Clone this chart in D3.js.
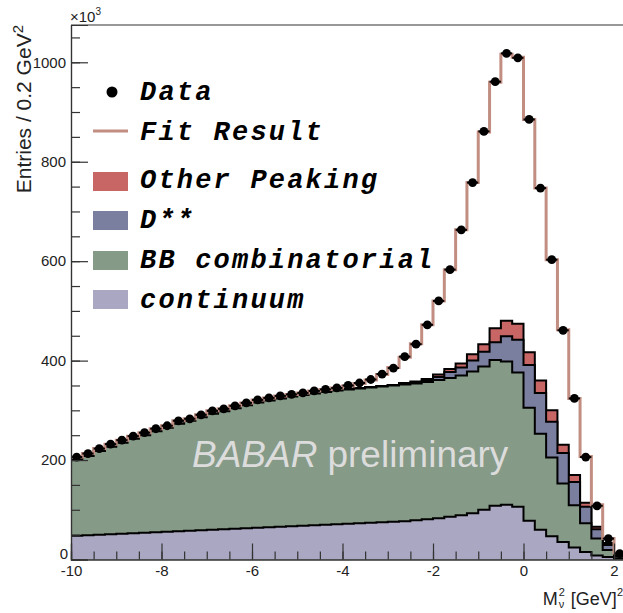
<!DOCTYPE html>
<html>
<head>
<meta charset="utf-8">
<script src="https://cdn.jsdelivr.net/npm/d3@7"></script>
<style>
  html, body { margin: 0; padding: 0; background: #fff; }
  svg { display: block; }
</style>
</head>
<body>
<svg id="chart" width="623" height="613"></svg>
<script>
// Histogram binning (GeV^2)
const binLow = -10;
const binWidth = 0.25;

// Observed entries per bin (x10^3)
const dataCounts = [206, 213, 223, 232, 240, 248, 255, 263, 269, 279,
                    283, 291, 299, 303, 309, 315, 321, 325, 329, 332,
                    335, 339, 342, 345, 350, 355, 362, 373, 385, 408,
                    433, 472, 520, 583, 663, 758, 861, 961, 1018, 1009,
                    885, 747, 603, 461, 324, 206, 108, 42, 12, 3];

// Total fit prediction per bin
const fitCounts = [206, 213, 223, 232, 240, 248, 255, 263, 269, 279,
                   283, 291, 299, 303, 309, 315, 321, 325, 329, 332,
                   335, 339, 342, 345, 349, 354, 361, 372, 386, 407,
                   434, 472, 520, 583, 663, 758, 860, 960, 1016, 1010,
                   885, 747, 603, 462, 324, 207, 110, 42, 13, 4];

// Background components (stacked bottom to top)
const continuum = [48, 49, 50, 51, 52, 53, 54, 55, 56, 57,
                   58, 59, 60, 61, 62, 63, 64, 65, 66, 67,
                   68, 69, 70, 71, 72, 73, 74, 75, 76, 77,
                   79, 81, 83, 86, 89, 93, 100, 108, 110, 106,
                   78, 60, 47, 35, 24, 15, 8, 5, 2, 1];
const bbCombinatorial = [152, 159, 168, 176, 183, 190, 196, 203, 209, 216,
                         221, 227, 233, 237, 242, 247, 252, 255, 258, 261,
                         263, 265, 267, 269, 270, 271, 272, 273, 274, 275,
                         275, 276, 278, 279, 281, 285, 288, 293, 288, 270,
                         227, 193, 158, 118, 85, 58, 34, 14, 4, 1];
const dStarStar = [0, 0, 0, 0, 0, 0, 0, 0, 0, 0,
                   0, 0, 0, 0, 0, 0, 0, 0, 0, 0,
                   0, 0, 0, 1, 1, 1, 1, 1, 1, 2,
                   2, 3, 6, 12, 16, 22, 30, 36, 51, 66,
                   86, 82, 72, 61, 47, 33, 19, 10, 3, 1];
const otherPeaking = [0, 0, 0, 0, 0, 0, 0, 0, 0, 0,
                      0, 0, 0, 0, 0, 0, 0, 0, 0, 0,
                      0, 0, 0, 0, 0, 0, 0, 0, 0, 1,
                      2, 3, 5, 6, 8, 13, 15, 28, 31, 32,
                      26, 25, 23, 17, 14, 8, 5, 4, 1, 0];

// Axis ticks
const xTickValues = [-10, -8, -6, -4, -2, 0, 2];
const yTickValues = [0, 200, 400, 600, 800, 1000];

// Legend
const legendLabels = ["Data", "Fit Result", "Other Peaking", "D**", "BB combinatorial", "continuum"];

const colors = {
  continuum: "#a9a7c1",
  bb: "#859a87",
  dss: "#7b7f9f",
  other: "#c86666",
  fit: "#c28e82"
};

const sans = "Liberation Sans, Arial, sans-serif";
const svg = d3.select("#chart");

const x = d3.scaleLinear().domain([-10, 2.5]).range([71, 71 + 12.5 * 45.25]);
const y = d3.scaleLinear().domain([0, 1075]).range([559.5, 25]);

const nBins = dataCounts.length;
const edges = d3.range(nBins + 1).map(i => binLow + i * binWidth);

// Step outline of a histogram: one point per bin left edge plus the final edge
function stepPoints(values) {
  const pts = values.map((v, i) => [edges[i], v]);
  pts.push([edges[nBins], values[nBins - 1]]);
  return pts;
}

const area = d3.area()
  .x(d => x(d[0]))
  .y0(y(0))
  .y1(d => y(d[1]))
  .curve(d3.curveStepAfter);

const line = d3.line()
  .x(d => x(d[0]))
  .y(d => y(d[1]))
  .curve(d3.curveStepAfter);

const plot = svg.append("g");

// Cumulative stack, drawn from the top layer down
const layers = [continuum, bbCombinatorial, dStarStar, otherPeaking];
const layerColors = [colors.continuum, colors.bb, colors.dss, colors.other];
const cumulative = [];
layers.forEach((arr, li) => {
  cumulative.push(arr.map((v, i) => v + (li > 0 ? cumulative[li - 1][i] : 0)));
});

for (let li = layers.length - 1; li >= 0; li--) {
  const pts = stepPoints(cumulative[li]);
  plot.append("path")
    .attr("d", area(pts))
    .attr("fill", layerColors[li])
    .attr("stroke", "none");
  plot.append("path")
    .attr("d", line(pts))
    .attr("fill", "none")
    .attr("stroke", "#000")
    .attr("stroke-width", 2);
}

// Fit result
plot.append("path")
  .attr("d", line(stepPoints(fitCounts)))
  .attr("fill", "none")
  .attr("stroke", colors.fit)
  .attr("stroke-width", 3);

// Data points with horizontal bin-width bars
const pts = plot.append("g");
dataCounts.forEach((v, i) => {
  const cx = x(edges[i] + binWidth / 2);
  pts.append("line")
    .attr("x1", x(edges[i])).attr("x2", x(edges[i + 1]))
    .attr("y1", y(v)).attr("y2", y(v))
    .attr("stroke", "#000").attr("stroke-width", 2);
  pts.append("circle")
    .attr("cx", cx).attr("cy", y(v)).attr("r", 4.4)
    .attr("fill", "#000");
});

// BABAR preliminary watermark
const wm = svg.append("text")
  .attr("x", 192).attr("y", 467)
  .attr("font-family", sans)
  .attr("font-size", 37)
  .attr("fill", "#dcdcdc");
wm.append("tspan").attr("font-style", "italic").text("BABAR");
wm.append("tspan").attr("dx", 10).text("preliminary");

// Frame and axes
const axisColor = "#333";
svg.append("line").attr("x1", 71).attr("x2", 623).attr("y1", 25).attr("y2", 25)
  .attr("stroke", axisColor).attr("stroke-width", 1.2);

const yMinor = svg.append("g").attr("transform", "translate(71,0)")
  .call(d3.axisLeft(y).tickValues(d3.range(0, 1075, 50)).tickSize(-9).tickFormat(""));
const yMajor = svg.append("g").attr("transform", "translate(71,0)")
  .call(d3.axisLeft(y).tickValues(yTickValues).tickSize(-17).tickPadding(5).tickFormat(d => String(d)));

const xMinor = svg.append("g").attr("transform", "translate(0,559.5)")
  .call(d3.axisBottom(x).tickValues(d3.range(-10, 2.5, 0.5)).tickSize(-8).tickFormat(""));
const xMajor = svg.append("g").attr("transform", "translate(0,559.5)")
  .call(d3.axisBottom(x).tickValues(xTickValues).tickSize(-16).tickPadding(6).tickFormat(d => String(d)));

[yMinor, yMajor, xMinor, xMajor].forEach(g => {
  g.select(".domain").attr("stroke", axisColor).attr("stroke-width", 1.2);
  g.selectAll(".tick line").attr("stroke", axisColor).attr("stroke-width", 1.2);
  g.selectAll("text")
    .attr("font-family", sans)
    .attr("font-size", 15)
    .attr("fill", "#222");
});
// Corner zero sits a little above the axis line so it clears the x labels
yMajor.selectAll(".tick text").filter(d => d === 0).attr("dy", "-0.05em").attr("x", -3);

// Axis titles
const yTitle = svg.append("text")
  .attr("transform", "translate(31,25) rotate(-90)")
  .attr("text-anchor", "end")
  .attr("font-family", sans)
  .attr("font-size", 21)
  .attr("fill", "#222");
yTitle.append("tspan").text("Entries / 0.2 GeV");
yTitle.append("tspan").attr("font-size", 15).attr("dy", -8).text("2");

const scaleLbl = svg.append("text")
  .attr("x", 70).attr("y", 22)
  .attr("font-family", sans)
  .attr("font-size", 15)
  .attr("fill", "#222");
scaleLbl.append("tspan").text("\u00d710");
scaleLbl.append("tspan").attr("font-size", 10).attr("dy", -7).text("3");

// x title: M with stacked sub/superscript, then [GeV]^2, right-aligned
const xt = svg.append("g").attr("font-family", sans).attr("fill", "#222");
const xBase = 605;
const mTxt = xt.append("text").attr("x", 0).attr("y", xBase).attr("font-size", 18).text("M");
const mW = mTxt.node().getComputedTextLength();
const sup1 = xt.append("text").attr("x", mW + 1).attr("y", xBase - 9).attr("font-size", 11).text("2");
const sub1 = xt.append("text").attr("x", mW + 1).attr("y", xBase + 3).attr("font-size", 11).text("\u03bd");
const sW = Math.max(sup1.node().getComputedTextLength(), sub1.node().getComputedTextLength());
const gev = xt.append("text").attr("x", mW + sW + 7).attr("y", xBase).attr("font-size", 18).text("[GeV]");
const gW = gev.node().getComputedTextLength();
const sup2 = xt.append("text").attr("x", mW + sW + 7 + gW).attr("y", xBase - 9).attr("font-size", 11).text("2");
const totalW = mW + sW + 7 + gW + sup2.node().getComputedTextLength();
xt.attr("transform", `translate(${623 - totalW},0)`);

// Legend
const legend = svg.append("g");
const legendRows = [100, 140, 188, 228, 268, 308];
const lf = "Liberation Mono, DejaVu Sans Mono, monospace";
legendLabels.forEach((lab, i) => {
  legend.append("text")
    .attr("x", 140).attr("y", legendRows[i])
    .attr("font-family", lf)
    .attr("font-weight", "bold")
    .attr("font-style", "italic")
    .attr("font-size", 27)
    .attr("letter-spacing", 2.2)
    .attr("fill", "#000")
    .text(lab);
});
legend.append("circle").attr("cx", 112).attr("cy", 92).attr("r", 5.5).attr("fill", "#000");
legend.append("line").attr("x1", 93).attr("x2", 128).attr("y1", 131).attr("y2", 131)
  .attr("stroke", colors.fit).attr("stroke-width", 3);
const boxColors = [colors.other, colors.dss, colors.bb, colors.continuum];
const boxTops = [172, 211, 251, 290];
boxColors.forEach((c, i) => {
  legend.append("rect").attr("x", 93).attr("y", boxTops[i]).attr("width", 35).attr("height", 19)
    .attr("fill", c);
});
</script>
</body>
</html>
